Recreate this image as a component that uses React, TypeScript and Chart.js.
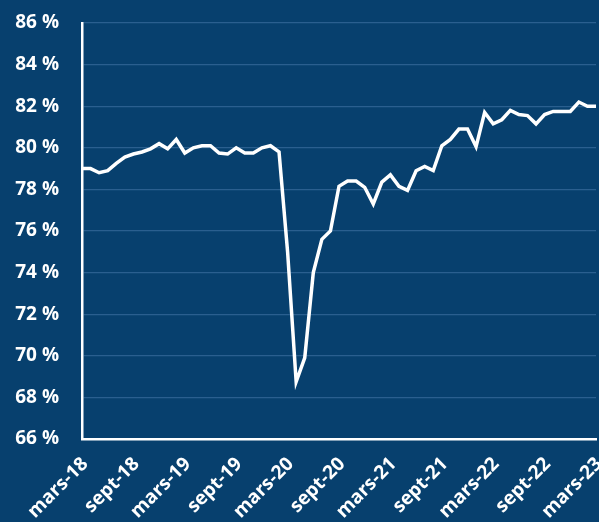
import React, { useEffect, useRef } from "react";
import { Chart, registerables } from "chart.js";

Chart.register(...registerables);

const MONTH_NAMES = ["janv", "févr", "mars", "avr", "mai", "juin", "juil", "août", "sept", "oct", "nov", "déc"];
const FIRST_MONTH_INDEX = 2; // mars
const FIRST_YEAR = 18;
const MONTH_COUNT = 61;

const categories: string[] = Array.from({ length: MONTH_COUNT }, (_, i) => {
  const m = (FIRST_MONTH_INDEX + i) % 12;
  const y = FIRST_YEAR + Math.floor((FIRST_MONTH_INDEX + i) / 12);
  return `${MONTH_NAMES[m]}-${y}`;
});

const tickLabels = ["mars-18", "sept-18", "mars-19", "sept-19", "mars-20", "sept-20", "mars-21", "sept-21", "mars-22", "sept-22", "mars-23"];

const rate = [
  79.0, 79.0, 78.8, 78.9, 79.25, 79.55, 79.7, 79.8, 79.95, 80.2, 79.95, 80.4,
  79.75, 80.0, 80.1, 80.1, 79.75, 79.7, 80.0, 79.75, 79.75, 80.0, 80.1, 79.8,
  75.0, 68.75, 69.9, 74.0, 75.6, 76.0, 78.15, 78.4, 78.4, 78.1, 77.3, 78.35,
  78.7, 78.15, 77.95, 78.9, 79.1, 78.9, 80.1, 80.4, 80.9, 80.9, 80.05, 81.7,
  81.15, 81.35, 81.8, 81.6, 81.55, 81.15, 81.6, 81.75, 81.75, 81.75, 82.2, 82.0,
  82.0,
];

const Y_MIN = 66;
const Y_MAX = 86;
const Y_STEP = 2;

const BG = "#07406e";
const GRID = "#2a5f8f";
const FONT = "'Open Sans', 'DejaVu Sans', sans-serif";

export default function App() {
  const ref = useRef<HTMLCanvasElement | null>(null);

  useEffect(() => {
    document.body.style.margin = "0";
    const ctx = ref.current!;
    const chart = new Chart(ctx, {
      type: "line",
      data: {
        labels: categories,
        datasets: [
          {
            data: rate,
            borderColor: "#ffffff",
            borderWidth: 3.5,
            pointRadius: 0,
            tension: 0,
            fill: false,
          },
        ],
      },
      options: {
        animation: false,
        responsive: false,
        maintainAspectRatio: false,
        layout: { padding: { top: 23, right: 3, left: 0, bottom: 0 } },
        plugins: { legend: { display: false }, tooltip: { enabled: false } },
        scales: {
          x: {
            type: "category",
            grid: { display: false, drawTicks: false },
            border: { display: true, color: "#ffffff", width: 2.5 },
            afterFit: (s: any) => {
              s.height = 83;
              s.paddingRight = 0;
              s.paddingLeft = 0;
            },
            ticks: {
              autoSkip: false,
              maxRotation: 45,
              minRotation: 45,
              padding: 14,
              labelOffset: 3,
              color: "#ffffff",
              font: { family: FONT, size: 19, weight: "bold" },
              callback: (_v: any, i: number) => (i % 6 === 0 ? tickLabels[i / 6] : null),
            },
          },
          y: {
            min: Y_MIN,
            max: Y_MAX,
            grid: { color: GRID, lineWidth: 1.2, drawTicks: false },
            border: { display: true, color: "#ffffff", width: 2.5 },
            afterFit: (s: any) => {
              s.width = 82;
              s.paddingTop = 0;
              s.paddingBottom = 0;
            },
            ticks: {
              stepSize: Y_STEP,
              padding: 23,
              color: "#ffffff",
              font: { family: FONT, size: 19, weight: "bold" },
              callback: (v: any) => `${v} %`,
            },
          },
        },
      },
    });
    return () => chart.destroy();
  }, []);

  return (
    <div style={{ position: "absolute", left: 0, top: 0, width: 599, height: 522, background: BG }}>
      <canvas ref={ref} width={599} height={522} style={{ display: "block" }} />
    </div>
  );
}
